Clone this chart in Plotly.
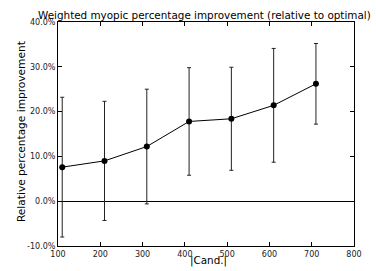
import plotly.graph_objects as go

cand = [110, 210, 310, 410, 510, 610, 710]
improvement = [7.6, 9.0, 12.2, 17.8, 18.4, 21.4, 26.2]
err = [15.6, 13.3, 12.8, 12.0, 11.5, 12.7, 9.0]
x_ticks = [100, 200, 300, 400, 500, 600, 700, 800]
y_ticks = [-10, 0, 10, 20, 30, 40]

W, H = 376, 271
ML, MR, MT, MB = 58, 22, 22, 21
PW, PH = W - ML - MR, H - MT - MB

fig = go.Figure()
fig.add_trace(go.Scatter(
    x=cand, y=improvement, mode="lines+markers",
    line=dict(color="black", width=1),
    marker=dict(color="black", size=6),
    error_y=dict(type="data", array=err, visible=True, color="#222222", thickness=1, width=2),
    showlegend=False, cliponaxis=False,
))

fnt = "DejaVu Sans"
fig.update_layout(
    width=W, height=H,
    margin=dict(l=ML, r=MR, t=MT, b=MB),
    paper_bgcolor="white", plot_bgcolor="white",
    font=dict(family=fnt, color="black", size=8),
    xaxis=dict(range=[100, 800], tickvals=x_ticks, ticktext=[str(v) for v in x_ticks],
               ticks="inside", ticklen=4, tickcolor="black", mirror="allticks",
               showline=True, linecolor="black", linewidth=1, showgrid=False, zeroline=False,
               tickfont=dict(size=8, color="#222222")),
    yaxis=dict(range=[-10, 40], tickvals=y_ticks, ticktext=[f"{v:.1f}%" for v in y_ticks],
               ticks="inside", ticklen=4, tickcolor="black", mirror="allticks",
               showline=True, linecolor="black", linewidth=1, showgrid=False,
               zeroline=True, zerolinecolor="black", zerolinewidth=1,
               tickfont=dict(size=8, color="#222222")),
    annotations=[
        dict(text="Weighted myopic percentage improvement (relative to optimal)",
             x=(204 - ML) / PW, y=1 + (MT - 14.5) / PH, xref="paper", yref="paper",
             showarrow=False, xanchor="center", yanchor="middle",
             font=dict(size=10.4, family=fnt, color="black")),
        dict(text="|Cand.|", x=(208 - ML) / PW, y=-(265 - (MT + PH)) / PH, xref="paper",
             yref="paper", showarrow=False, xanchor="center", yanchor="middle",
             font=dict(size=10.4, family=fnt, color="black")),
        dict(text="Relative percentage improvement", x=(21 - ML) / PW, y=1 - (134 - MT) / PH,
             xref="paper", yref="paper", showarrow=False, textangle=-90,
             xanchor="center", yanchor="middle",
             font=dict(size=10.6, family=fnt, color="black")),
    ],
)
fig.write_html("out.html", config={"displayModeBar": False},
               post_script="document.body.style.margin='0';document.body.style.overflow='hidden';")
